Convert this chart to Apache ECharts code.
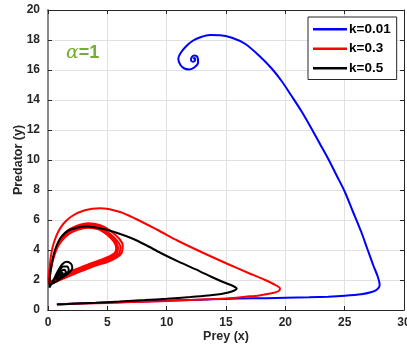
<!DOCTYPE html>
<html>
<head>
<meta charset="utf-8">
<script src="https://cdn.jsdelivr.net/npm/echarts@6/dist/echarts.min.js"></script>
<style>
  html, body { margin: 0; padding: 0; background: #fff; }
  #chart { width: 407px; height: 349px; }
</style>
</head>
<body>
<div id="chart"></div>
<script>
// phase trajectories: [prey x, predator y]
const k001 = [
  [0.75, 0.38], [2, 0.42], [4, 0.47], [6, 0.52], [8, 0.57], [10, 0.62], [12, 0.67], [13.8, 0.71],
  [16, 0.76], [18.4, 0.79], [20, 0.82], [22, 0.85], [23.6, 0.89], [25, 0.95], [26.4, 1.05],
  [27.2, 1.18], [27.7, 1.35], [27.95, 1.65], [27.8, 2.2], [27.4, 3.0], [26.9, 4.1], [26.4, 5.2],
  [25.7, 6.55], [25.0, 7.9], [24.3, 9.0], [23.6, 10.1], [22.9, 11.1], [22.2, 12.1], [21.4, 13.2],
  [20.5, 14.3], [19.7, 15.25], [18.85, 16.1], [17.8, 16.95], [16.6, 17.75], [15.5, 18.15],
  [14.5, 18.32], [13.65, 18.33], [12.9, 18.2], [12.2, 17.95], [11.6, 17.55], [11.15, 17.1],
  [10.98, 16.75], [11.15, 16.35], [11.5, 16.1], [11.9, 16.04], [12.35, 16.18], [12.65, 16.5],
  [12.6, 16.85], [12.35, 16.97], [12.1, 16.85], [12.05, 16.65], [12.22, 16.55], [12.4, 16.65],
  [12.35, 16.8], [12.22, 16.75]
];

const k03 = [
  [0.75, 0.38], [2, 0.41], [4, 0.45], [6, 0.5], [8, 0.55], [10, 0.6], [12, 0.66], [14, 0.73],
  [15.6, 0.8], [16.6, 0.88], [17.8, 0.97], [18.85, 1.11], [19.4, 1.25], [19.55, 1.42], [19.2, 1.65],
  [18.3, 2.0], [16.8, 2.5], [15.2, 3.05], [13.1, 3.8], [10.98, 4.6], [9.2, 5.35], [7.33, 6.1],
  [6, 6.55], [4.4, 6.78], [3.1, 6.65], [2.0, 6.25], [1.3, 5.75], [0.85, 5.2], [0.5, 4.5],
  [0.3, 3.85], [0.15, 3.0], [0.05, 2.1],
  [0.1, 1.75], [0.25, 2.8], [0.55, 3.8], [1.0, 4.6], [1.6, 5.25], [2.4, 5.6], [3.4, 5.78], [4.4, 5.65],
  [5.3, 5.25], [6.0, 4.75], [6.3, 4.3], [6.2, 3.8], [5.8, 3.5], [5.0, 3.2], [3.96, 2.95], [3.0, 2.65],
  [2.0, 2.33], [1.0, 2.0], [0.3, 1.8],
  [0.12, 2.0], [0.3, 3.0], [0.6, 3.9], [1.05, 4.6], [1.65, 5.15], [2.45, 5.5], [3.4, 5.65], [4.35, 5.52],
  [5.2, 5.1], [5.85, 4.6], [6.1, 4.2], [6.0, 3.78], [5.6, 3.52], [4.8, 3.25], [3.85, 3.0], [2.9, 2.72],
  [1.9, 2.4], [0.95, 2.05], [0.3, 1.85],
  [0.14, 2.05], [0.32, 3.05], [0.65, 3.95], [1.1, 4.6], [1.7, 5.1], [2.5, 5.42], [3.4, 5.55], [4.3, 5.45],
  [5.1, 5.05], [5.7, 4.55], [5.9, 4.15], [5.8, 3.8], [5.4, 3.55], [4.6, 3.3], [3.7, 3.05], [2.8, 2.78],
  [1.8, 2.45], [0.9, 2.1], [0.3, 1.9],
  [0.15, 2.1], [0.35, 3.1], [0.7, 4.0], [1.15, 4.6], [1.75, 5.05], [2.55, 5.36], [3.4, 5.49], [4.25, 5.38],
  [5.0, 5.0], [5.55, 4.55], [5.75, 4.15], [5.65, 3.82], [5.25, 3.6], [4.5, 3.35], [3.6, 3.1], [2.7, 2.82],
  [1.7, 2.5], [0.85, 2.15], [0.35, 1.95]
];

const k05 = [
  [0.75, 0.36], [2, 0.41], [4, 0.48], [6, 0.56], [8.17, 0.66], [10, 0.75], [12, 0.86], [13.5, 0.96],
  [14.6, 1.07], [15.2, 1.17], [15.7, 1.3], [15.9, 1.42], [15.6, 1.6], [14.8, 1.85], [13.8, 2.2],
  [12.8, 2.58], [11, 3.22], [9.5, 3.8], [8.2, 4.35], [7.0, 4.8], [5.9, 5.12], [4.8, 5.38], [3.9, 5.52],
  [3.2, 5.56], [2.5, 5.5], [1.71, 5.3], [1.2, 4.95], [0.87, 4.56], [0.55, 3.9], [0.3, 3.0],
  [0.15, 2.2], [0.12, 1.5],
  [0.4, 1.9], [0.8, 2.55], [1.2, 3.05], [1.57, 3.22], [1.95, 3.08], [2.05, 2.8], [1.8, 2.5], [1.3, 2.2],
  [0.7, 1.9], [0.35, 1.75], [0.6, 2.1], [0.95, 2.6], [1.3, 2.9], [1.62, 2.9], [1.75, 2.65], [1.5, 2.4],
  [1.05, 2.18], [0.7, 2.05], [0.9, 2.35], [1.15, 2.62], [1.4, 2.68], [1.5, 2.5], [1.25, 2.33],
  [0.98, 2.28], [1.15, 2.45], [1.3, 2.48]
];

const legendNames = ['k=0.01', 'k=0.3', 'k=0.5'];
const lineColors = ['#0000ff', '#ff0000', '#000000'];
const xTicks = { min: 0, max: 30, step: 5 };
const yTicks = { min: 0, max: 20, step: 2 };

const chart = echarts.init(document.getElementById('chart'), null, { renderer: 'canvas' });

const font = 'Liberation Sans, Arial, sans-serif';
const axisText = { color: '#262626', fontSize: 12, fontWeight: 'bold', fontFamily: font };

function mkLine(name, data, color) {
  return {
    name, type: 'line', data, showSymbol: false, symbol: 'none',
    smooth: 0.3, xAxisIndex: 0, yAxisIndex: 0,
    lineStyle: { color, width: 2 }, itemStyle: { color }
  };
}

chart.setOption({
  animation: false,
  backgroundColor: '#fff',
  grid: { left: 48, right: 3, top: 10, bottom: 39, containLabel: false, outerBoundsMode: 'none' },
  legend: {
    orient: 'vertical',
    left: 308, top: 17,
    data: legendNames,
    icon: 'rect', itemWidth: 34, itemHeight: 2.5, itemGap: 5,
    padding: [5, 6, 4, 5],
    borderColor: '#262626', borderWidth: 1, backgroundColor: '#fff',
    textStyle: { color: '#000', fontSize: 13.5, fontWeight: 'bold', lineHeight: 14.5,
      padding: [0, 0, 0, -3], fontFamily: font }
  },
  xAxis: [
    {
      type: 'value', min: xTicks.min, max: xTicks.max, interval: xTicks.step,
      name: 'Prey (x)', nameLocation: 'middle', nameGap: 20, nameMoveOverlap: false,
      nameTextStyle: { color: '#262626', fontSize: 12.5, fontWeight: 'bold', fontFamily: font },
      axisLine: { show: true, onZero: false, lineStyle: { color: '#262626', width: 1.2 } },
      axisTick: { show: true, inside: true, length: 4, lineStyle: { color: '#262626' } },
      axisLabel: { ...axisText, margin: 7 },
      splitLine: { show: true, lineStyle: { color: '#e1e1e1', width: 1 } }
    },
    {
      type: 'value', position: 'top', min: xTicks.min, max: xTicks.max, interval: xTicks.step,
      axisLine: { show: true, onZero: false, lineStyle: { color: '#262626', width: 1 } },
      axisTick: { show: true, inside: true, length: 4, lineStyle: { color: '#262626' } },
      axisLabel: { show: false }, splitLine: { show: false }
    }
  ],
  yAxis: [
    {
      type: 'value', min: yTicks.min, max: yTicks.max, interval: yTicks.step,
      name: 'Predator (y)', nameLocation: 'middle', nameGap: 23, nameMoveOverlap: false,
      nameTextStyle: { color: '#262626', fontSize: 12.5, fontWeight: 'bold', fontFamily: font },
      axisLine: { show: true, onZero: false, lineStyle: { color: '#8a8a8a', width: 2 } },
      axisTick: { show: true, inside: true, length: 4, lineStyle: { color: '#262626' } },
      axisLabel: { ...axisText, margin: 8 },
      splitLine: { show: true, lineStyle: { color: '#e1e1e1', width: 1 } }
    },
    {
      type: 'value', position: 'right', min: yTicks.min, max: yTicks.max, interval: yTicks.step,
      axisLine: { show: true, onZero: false, lineStyle: { color: '#262626', width: 1 } },
      axisTick: { show: true, inside: true, length: 4, lineStyle: { color: '#262626' } },
      axisLabel: { show: false }, splitLine: { show: false }
    }
  ],
  graphic: [
    {
      type: 'text', left: 66, top: 44, silent: true,
      style: {
        text: '{a|α}{b|=1}',
        rich: {
          a: { fill: '#77ac30', fontSize: 19, fontStyle: 'italic', fontFamily: 'DejaVu Serif, serif' },
          b: { fill: '#77ac30', fontSize: 18, fontWeight: 'bold', fontFamily: font }
        }
      }
    }
  ],
  series: [
    mkLine(legendNames[0], k001, lineColors[0]),
    mkLine(legendNames[1], k03, lineColors[1]),
    mkLine(legendNames[2], k05, lineColors[2])
  ]
});
</script>
</body>
</html>
